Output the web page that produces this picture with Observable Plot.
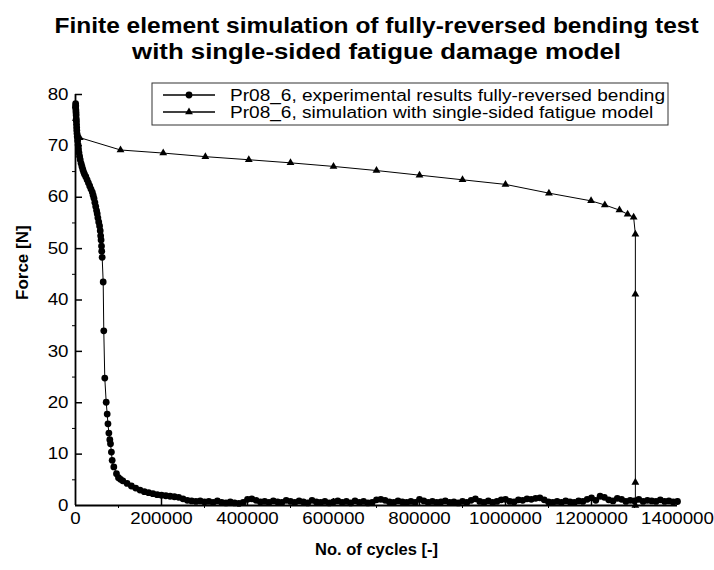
<!DOCTYPE html>
<html>
<head>
<meta charset="utf-8">
<script src="https://cdn.jsdelivr.net/npm/d3@7"></script>
<script src="https://cdn.jsdelivr.net/npm/@observablehq/plot@0.6"></script>
<style>
  html, body { margin: 0; padding: 0; background: #fff; }
</style>
</head>
<body>
<div id="chart"></div>
<script>
const titleLines = ["Finite element simulation of fully-reversed bending test", "with single-sided fatigue damage model"];
const xLabel = "No. of cycles [-]";
const yLabel = "Force [N]";
const seriesNames = ["Pr08_6, experimental results fully-reversed bending", "Pr08_6, simulation with single-sided fatigue model"];

const xTicks = [0, 200000, 400000, 600000, 800000, 1000000, 1200000, 1400000];
const xMinorTicks = [100000, 300000, 500000, 700000, 900000, 1100000, 1300000];
const yTicks = [0, 10, 20, 30, 40, 50, 60, 70, 80];
const yMinorTicks = [5, 15, 25, 35, 45, 55, 65, 75];

// experimental series: [cycles, force]
const expEarly = [
  [0,77.5],[300,78.2],[600,77.8],[900,77.0],[1200,76.5],[1500,76.0],[1800,75.3],[2100,74.8],[2400,74.2],[2700,73.6],
  [3000,73.0],[3500,72.4],[4000,71.8],[5000,71.0],[6000,70.2],[7000,69.4],[8000,68.7],[9500,68.0],[11000,67.3],[13000,66.6],
  [15000,66.0],[17000,65.4],[19000,64.9],[21000,64.5],[24000,64.0],[27000,63.4],[30000,62.8],[33000,62.2],[36000,61.6],[39000,61.0],
  [41000,60.4],[43000,59.8],[45000,59.0],[47000,58.2],[49000,57.4],[50500,56.8],[52000,56.0],[54000,55.2],[56000,54.4],[57500,53.5],
  [58500,52.5],[59500,51.7],[60500,50.5],[61000,49.5],[62000,48.3],[64400,43.5],[65800,34.0],[68100,24.8],[71400,20.1],[73700,17.8],
  [75500,15.9],[77600,14.1],[79800,12.8],[81400,12.0],[83500,10.4],[85300,8.8],[89100,7.5],[95300,6.2],[100000,5.4],[104700,5.1]
];
const expTail = [
  [110000,4.8],[120000,4.3],[130000,3.8],[140000,3.4],[150000,3.0],[160000,2.7],[170000,2.5],[180000,2.3],[190000,2.1],[200000,2.0],
  [210000,1.9],[220000,1.8],[230000,1.7],[240000,1.6],[250000,1.3],[260000,1.0],[270000,0.9],[280000,0.8],[290000,0.9],[300000,0.7],
  [310000,0.8],[320000,0.6],[330000,0.9],[340000,0.6],[350000,0.5],[360000,0.7],[370000,0.5],[380000,0.4],[390000,0.6],[400000,1.2],
  [410000,1.3],[420000,1.0],[430000,0.7],[440000,0.8],[450000,0.6],[460000,0.9],[470000,0.7],[480000,0.6],[490000,1.0],[500000,0.8],
  [510000,0.6],[520000,0.9],[530000,0.7],[540000,0.5],[550000,1.0],[560000,0.7],[570000,0.6],[580000,0.8],[590000,0.5],[600000,0.7],
  [610000,0.9],[620000,0.6],[630000,0.8],[640000,0.5],[650000,0.9],[660000,0.6],[670000,0.8],[680000,0.5],[690000,0.6],[700000,1.1],
  [710000,1.2],[720000,1.0],[730000,0.7],[740000,0.6],[750000,0.9],[760000,0.7],[770000,0.6],[780000,0.8],[790000,0.6],[800000,1.2],
  [810000,0.9],[820000,0.6],[830000,0.8],[840000,0.6],[850000,0.7],[860000,0.9],[870000,0.6],[880000,0.7],[890000,0.5],[900000,0.8],
  [910000,0.6],[920000,1.0],[930000,1.3],[940000,0.8],[950000,0.6],[960000,0.9],[970000,0.6],[980000,0.8],[990000,1.1],[1000000,1.2],
  [1010000,0.8],[1020000,0.7],[1030000,1.1],[1040000,1.0],[1050000,1.3],[1060000,1.2],[1070000,1.4],[1080000,1.5],[1090000,1.1],[1100000,0.7],
  [1110000,0.6],[1120000,0.8],[1130000,0.6],[1140000,0.9],[1150000,0.7],[1160000,0.6],[1170000,0.9],[1180000,0.8],[1190000,1.2],[1200000,1.5],
  [1210000,1.0],[1220000,1.8],[1230000,1.6],[1240000,1.1],[1250000,0.9],[1260000,1.4],[1270000,1.2],[1280000,0.8],[1290000,1.0],[1300000,0.9],
  [1310000,1.2],[1320000,0.8],[1330000,1.0],[1340000,0.9],[1350000,0.8],[1360000,1.1],[1370000,0.8],[1380000,0.9],[1390000,0.7],[1400000,0.8]
];

// simulation series: [cycles, force]
const simData = [
  [10000,71.6],[104700,69.2],[204000,68.6],[302000,67.9],[403000,67.3],[500000,66.7],[600000,66.0],[700000,65.2],
  [800000,64.3],[900000,63.4],[1000000,62.5],[1101000,60.8],[1199000,59.3],[1231000,58.5],[1265000,57.5],[1284000,56.7],
  [1298000,56.1],[1302000,52.8],[1302000,41.1],[1302000,4.5],[1302000,0]
];

const expData = expEarly.concat(expTail).map(([x, y]) => ({x, y}));
const sim = simData.map(([x, y]) => ({x, y}));

const W = 714, H = 570, mL = 75, mR = 37, mT = 94, mB = 65;
const fw = W - mL - mR, fh = H - mT - mB;
const font = "'Liberation Sans', Arial, Helvetica, sans-serif";

const chart = Plot.plot({
  width: W, height: H,
  marginLeft: mL, marginRight: mR, marginTop: mT, marginBottom: mB,
  style: {fontFamily: font, fontSize: "16px", color: "#000", background: "#fff", overflow: "visible"},
  x: {domain: [0, 1400000]},
  y: {domain: [0, 80]},
  marks: [
    Plot.ruleY(yTicks.slice(1), {stroke: "#000", strokeWidth: 1.5, insetRight: fw - 7}),
    Plot.ruleY(yMinorTicks, {stroke: "#000", strokeWidth: 1, insetLeft: -3, insetRight: fw}),
    Plot.ruleX(xTicks.slice(1), {stroke: "#000", strokeWidth: 1.5, insetTop: fh - 7}),
    Plot.ruleX(xMinorTicks, {stroke: "#000", strokeWidth: 1, insetTop: fh, insetBottom: -3}),
    Plot.axisY({ticks: yTicks, tickSize: 0, tickPadding: 7, label: null, fontSize: 16}),
    Plot.axisX({ticks: xTicks, tickSize: 0, tickPadding: 7, label: null, fontSize: 16, tickFormat: d3.format("d")}),
    Plot.line(sim, {x: "x", y: "y", stroke: "#000", strokeWidth: 1}),
    Plot.dot(sim, {x: "x", y: "y", symbol: "triangle", r: 2.9, fill: "#000"}),
    Plot.line(expData, {x: "x", y: "y", stroke: "#000", strokeWidth: 1}),
    Plot.dot(expData, {x: "x", y: "y", r: 3.4, fill: "#000"}),
    Plot.ruleX([0], {stroke: "#000", strokeWidth: 1.8}),
    Plot.ruleY([0], {stroke: "#000", strokeWidth: 1.8}),
    Plot.text([titleLines[0]], {frameAnchor: "top", dy: -mT + 17, fontSize: 21.5, fontWeight: "bold", fill: "#000"}),
    Plot.text([titleLines[1]], {frameAnchor: "top", dy: -mT + 43, fontSize: 21.5, fontWeight: "bold", fill: "#000"}),
    Plot.text([xLabel], {frameAnchor: "bottom", dy: 49, fontSize: 16.5, fontWeight: "bold", fill: "#000"}),
    Plot.text([yLabel], {frameAnchor: "left", dx: -53, rotate: -90, fontSize: 17, fontWeight: "bold", fill: "#000"})
  ]
});

document.getElementById("chart").appendChild(chart);

// legend box
const svg = d3.select(chart);
const lg = svg.append("g").attr("font-family", font).attr("font-size", 16).attr("text-anchor", "start");
lg.append("rect").attr("x", 152).attr("y", 83).attr("width", 516).attr("height", 42)
  .attr("fill", "#fff").attr("stroke", "#333").attr("stroke-width", 1);
const rows = [95, 112];
seriesNames.forEach((name, i) => {
  const y = rows[i];
  lg.append("line").attr("x1", 163).attr("x2", 215).attr("y1", y).attr("y2", y)
    .attr("stroke", "#000").attr("stroke-width", 1.5);
  if (i === 0) {
    lg.append("circle").attr("cx", 189).attr("cy", y).attr("r", 3.4).attr("fill", "#000");
  } else {
    lg.append("path").attr("transform", `translate(189,${y})`)
      .attr("d", d3.symbol(d3.symbolTriangle, Math.PI * 2.9 * 2.9)()).attr("fill", "#000");
  }
  lg.append("text").attr("x", 230).attr("y", y).attr("dy", "0.35em").attr("text-anchor", "start")
    .attr("fill", "#000").text(name);
});

// the reference's lettering is horizontally wide: stretch glyphs to match
const stretchFor = t => {
  if (t === yLabel || t === xLabel) return 1.0;
  if (seriesNames.includes(t)) return 1.19;
  if (t === titleLines[0]) return 1.14;
  if (t === titleLines[1]) return 1.2;
  return 1.17;
};
svg.selectAll("text").each(function () {
  if (this.querySelector("tspan")) return;
  const t = this.textContent;
  const s = stretchFor(t);
  if (s === 1) return;
  const L = this.getComputedTextLength();
  this.setAttribute("textLength", (L * s).toFixed(2));
  this.setAttribute("lengthAdjust", "spacingAndGlyphs");
});
</script>
</body>
</html>
